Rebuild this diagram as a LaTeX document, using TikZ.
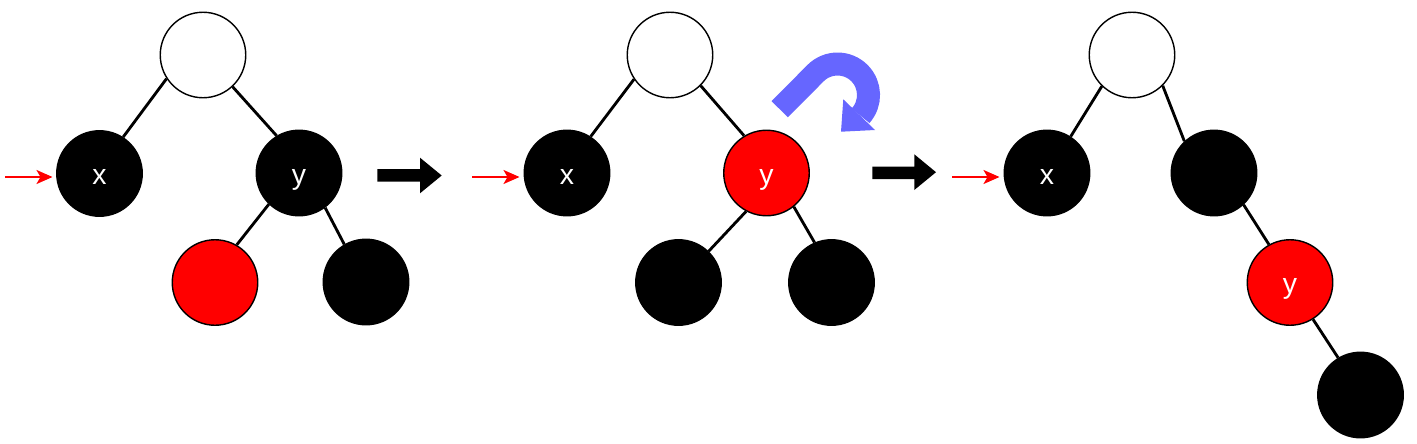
\documentclass[tikz,border=0pt]{standalone}
\usepackage{fontspec}
\setmainfont{Liberation Sans}
\usetikzlibrary{arrows.meta}
\definecolor{arrowblue}{RGB}{102,102,255}
\definecolor{nodered}{RGB}{255,0,0}
\tikzset{
  tnode/.style={circle, inner sep=0pt, minimum size=85.5pt, text=white,
    font=\fontsize{28.4}{34}\selectfont, text height=22pt, text depth=0pt},
  blacknode/.style={tnode, fill=black, draw=black, line width=1.4pt},
  whitenode/.style={tnode, fill=white, draw=black, line width=1.4pt},
  rednode/.style={tnode, fill=nodered, draw=black, line width=1.4pt},
  edge/.style={line width=2.84pt, black},
  pointer/.style={draw=nodered, line width=2pt, -{Stealth[length=16pt, width=14pt, inset=4pt]}},
  blockarrow/.style={fill=black},
}
\begin{document}
\begin{tikzpicture}[x=1pt,y=-1pt]
\useasboundingbox (0,0) rectangle (1417,444);
% panel 1
\node[whitenode] (r1) at (203,55) {};
\node[blacknode] (x1) at (99.5,173.5) {x};
\node[blacknode] (y1) at (299,173) {y};
\node[rednode] (c1) at (215,282.5) {};
\node[blacknode] (d1) at (366,282) {};
\draw[edge] (r1.213) -- (x1.57);
\draw[edge] (r1.313) -- (y1.121);
\draw[edge] (y1.226) -- (c1.60);
\draw[edge] (y1.307) -- (d1.120);
\coordinate (p1s) at (5,177);
\coordinate (p1e) at (52.5,177);
\draw[pointer] (p1s) -- (p1e);
\fill[blockarrow] (377.3,169) -- (420,169) -- (420,157.7) -- (441.7,175.5) -- (420,193.3) -- (420,181.7) -- (377.3,181.7) -- cycle;
% panel 2
\node[whitenode] (r2) at (670,55) {};
\node[blacknode] (x2) at (567,173) {x};
\node[rednode] (y2) at (766.5,173) {y};
\node[blacknode] (c2) at (678.5,282.5) {};
\node[blacknode] (d2) at (831.5,282.5) {};
\draw[edge] (r2.214) -- (x2.57);
\draw[edge] (r2.315) -- (y2.121);
\draw[edge] (y2.242) -- (c2.46);
\draw[edge] (y2.309) -- (d2.113);
\coordinate (p2s) at (472,177);
\coordinate (p2e) at (519.5,177);
\draw[pointer] (p2s) -- (p2e);
\draw[arrowblue, line width=23pt] (779.7,109.2) -- (815.6,73.1) arc[start angle=225, end angle=402, radius=31];
\fill[arrowblue] (843.3,99.3) -- (875,130) -- (841,131.7) -- cycle;
\fill[blockarrow] (872.3,166.7) -- (914.3,166.7) -- (914.3,154.3) -- (936,172.2) -- (914.3,190) -- (914.3,179) -- (872.3,179) -- cycle;
% panel 3
\node[whitenode] (r3) at (1132,55) {};
\node[blacknode] (x3) at (1047,173) {x};
\node[blacknode] (b3) at (1214,173) {};
\node[rednode] (y3) at (1290,282.5) {y};
\node[blacknode] (d3) at (1360.5,395) {};
\draw[edge] (r3.226) -- (x3.57);
\draw[edge] (r3.315) -- (b3.133);
\draw[edge] (b3.313) -- (y3.119);
\draw[edge] (y3.302) -- (d3.121);
\coordinate (p3s) at (952,177);
\coordinate (p3e) at (999.5,177);
\draw[pointer] (p3s) -- (p3e);
\end{tikzpicture}
\end{document}
